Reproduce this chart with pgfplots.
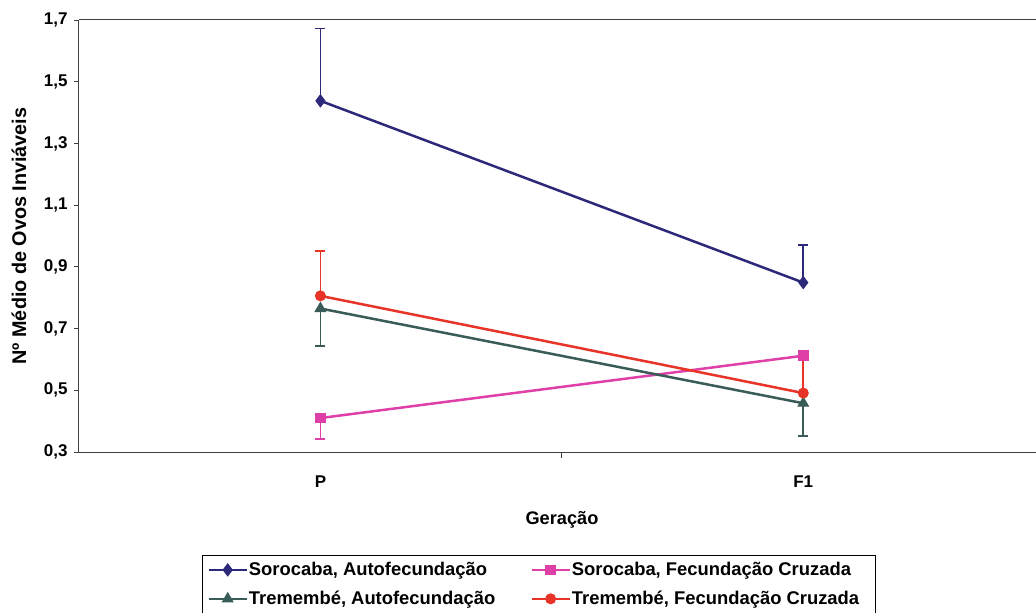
\documentclass[border=0pt]{standalone}
\usepackage{fontspec}
\setmainfont{Liberation Sans}
\usepackage{pgfplots}
\pgfplotsset{compat=1.18}
\definecolor{cnavy}{RGB}{44,40,122}
\definecolor{cpink}{RGB}{222,64,168}
\definecolor{cgreen}{RGB}{58,92,88}
\definecolor{cred}{RGB}{232,52,40}
\begin{document}
\begin{tikzpicture}
\path[use as bounding box] (-79pt,-161pt) rectangle (957pt,452pt);
\begin{axis}[
  at={(0,0)}, anchor=south west,
  scale only axis, width=957pt, height=432pt,
  xmin=-0.5, xmax=1.482, ymin=0.3, ymax=1.7,
  axis x line*=box, axis y line*=left,
  axis line style={-, line width=1pt, color=black!75},
  tick align=outside,
  major tick length=5pt, minor tick length=6pt,
  xtick={0,1}, xticklabels={P,F1},
  minor xtick={0.5},
  xtick pos=lower, ytick pos=left,
  major x tick style={draw=none},
  minor x tick style={line width=0.8pt, color=black!75},
  ytick={0.3,0.5,0.7,0.9,1.1,1.3,1.5,1.7},
  y tick style={line width=0.8pt, color=black!75},
  /pgf/number format/.cd, assume math mode=true, use comma, fixed, fixed zerofill, precision=1,
  /pgfplots/.cd,
  yticklabel style={font=\fontsize{17}{20}\selectfont\bfseries, xshift=-3pt},
  xticklabel style={font=\fontsize{17}{20}\selectfont\bfseries, yshift=-15pt},
  every axis y label/.style={at={(axis description cs:-0.0627,0.5)}, rotate=90, anchor=center, font=\fontsize{19.8}{22}\selectfont\bfseries},
  every axis x label/.style={at={(axis description cs:0.5047,-0.1574)}, anchor=center, font=\fontsize{18.2}{20}\selectfont\bfseries},
  ylabel={Nº Médio de Ovos Inviáveis},
  xlabel={Geração},
  legend columns=2,
  legend cell align=left,
  legend image code/.code={\draw[mark repeat=2,mark phase=2,#1] plot coordinates {(0pt,0pt)(19pt,0pt)(38pt,0pt)};},
  legend style={at={(axis description cs:0.1285,-0.2384)}, anchor=north west,
    draw=black, line width=1pt, font=\fontsize{18.4}{20}\selectfont\bfseries,
    inner xsep=5pt, inner ysep=4pt, row sep=8pt,
    nodes={inner xsep=1pt, inner ysep=3pt},
    /tikz/every even column/.append style={column sep=34pt}},
]
\addplot[color=cnavy, line width=2.5pt, mark=diamond*, mark size=6pt, mark options={solid, line width=1pt},
  error bars/.cd, y dir=plus, y explicit,
  error bar style={line width=1.6pt, color=cnavy},
  error mark options={rotate=90, mark size=5pt, line width=1.6pt, color=cnavy}]
  coordinates {(0,1.438) +- (0,0.235) (1,0.849) +- (0,0.122)};
\addlegendentry{Sorocaba, Autofecundação}
\addplot[color=cpink, line width=2.5pt, mark=square*, mark size=4.8pt, mark options={solid, line width=1pt},
  error bars/.cd, y dir=minus, y explicit,
  error bar style={line width=1.6pt, color=cpink},
  error mark options={rotate=90, mark size=5pt, line width=1.6pt, color=cpink}]
  coordinates {(0,0.410) +- (0,0.068) (1,0.612) +- (0,0)};
\addlegendentry{Sorocaba, Fecundação Cruzada}
\addplot[color=cgreen, line width=2.5pt, mark=triangle*, mark size=6pt, mark options={solid, line width=1pt},
  error bars/.cd, y dir=minus, y explicit,
  error bar style={line width=1.6pt, color=cgreen},
  error mark options={rotate=90, mark size=5pt, line width=1.6pt, color=cgreen}]
  coordinates {(0,0.765) +- (0,0.121) (1,0.458) +- (0,0.106)};
\addlegendentry{Tremembé, Autofecundação}
\addplot[color=cred, line width=2.5pt, mark=*, mark size=5pt, mark options={solid, line width=1pt},
  error bars/.cd, y dir=plus, y explicit,
  error bar style={line width=1.6pt, color=cred},
  error mark options={rotate=90, mark size=5pt, line width=1.6pt, color=cred}]
  coordinates {(0,0.806) +- (0,0.146) (1,0.491) +- (0,0.12)};
\addlegendentry{Tremembé, Fecundação Cruzada\hspace*{10pt}}
\end{axis}
\end{tikzpicture}
\end{document}
